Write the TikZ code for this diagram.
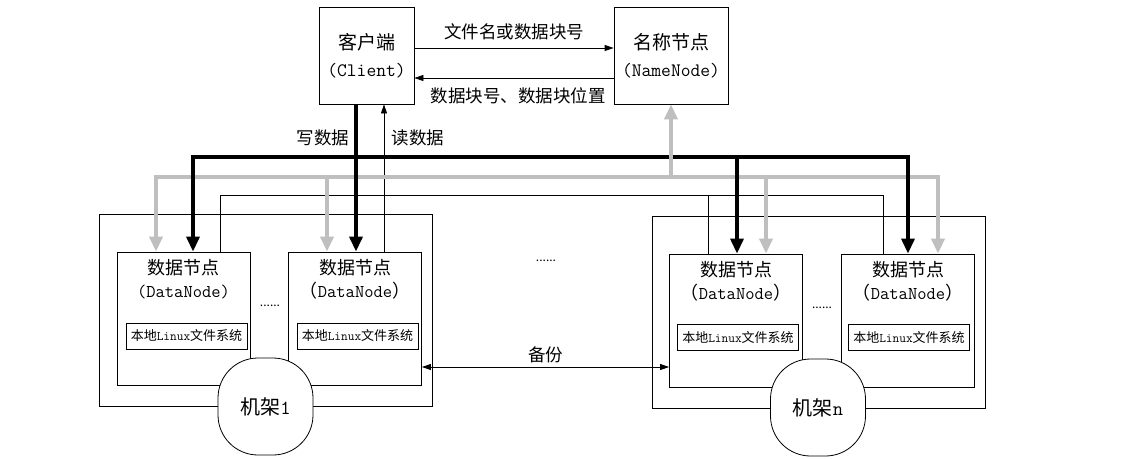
\documentclass[tikz,border=0pt]{standalone}
\usepackage{fontspec}
\setmainfont{Noto Sans CJK SC}
\newcommand\latfont{\ttfamily}
\usetikzlibrary{arrows.meta}
\definecolor{gry}{RGB}{191,191,191}
\tikzset{
  box/.style={draw,line width=0.8pt,inner sep=0pt},
  topbox/.style={box,minimum height=97pt,align=center,font=\fontsize{19}{27}\selectfont},
  rackbox/.style={box,minimum width=333pt,minimum height=192pt},
  dnbox/.style={box,minimum width=133pt,minimum height=133pt},
  dnlbl/.style={align=center,inner sep=0pt,font=\fontsize{18}{23}\selectfont},
  fsbox/.style={box,minimum width=121pt,minimum height=26pt,font=\fontsize{13}{15}\selectfont},
  rack/.style={box,fill=white,minimum width=95pt,minimum height=97pt,rounded corners=40pt,font=\fontsize{20}{22}\selectfont},
  lbl/.style={inner sep=0pt,font=\fontsize{17.5}{20}\selectfont},
  dots/.style={inner sep=0pt,font=\fontsize{12}{14}\selectfont},
  thinline/.style={line width=0.8pt},
  wline/.style={line width=3.4pt},
  gline/.style={line width=4.6pt,gry},
  tip/.tip={Triangle[length=9pt,width=6pt]},
  bigtip/.tip={Triangle[length=15pt,width=13pt]},
}

\begin{document}
\begin{tikzpicture}[x=1pt,y=-1pt]
\useasboundingbox (0,0) rectangle (1138,458);
% client and name node
\node[topbox,minimum width=95pt] (cl) at (366.5,55.5) {客户端\\{\latfont(Client)}};
\node[topbox,minimum width=114pt] (nn) at (671,55.5) {名称节点\\{\latfont(NameNode)}};
\draw[thinline,-tip] ([yshift=7.5pt]cl.east) -- ([yshift=7.5pt]cl.east -| nn.west)
  node[lbl,midway,above=8pt] {文件名或数据块号};
\draw[thinline,-tip] ([yshift=-22.5pt]nn.west) -- ([yshift=-22.5pt]nn.west -| cl.east)
  node[lbl,midway,below=9pt,xshift=4pt] {数据块号、数据块位置};
% racks
\node[rackbox] (r1) at (265.5,310) {};
\node[rackbox] (rn) at (818.5,312) {};
\node[dnbox] (dn1) at (183.5,318.5) {};
\node[dnbox] (dn2) at (355,318.5) {};
\node[dnbox] (dn3) at (736,320.5) {};
\node[dnbox] (dn4) at (908,320.5) {};
\node[dnlbl] at ([yshift=-27.5pt]dn1.north) {数据节点\\{\latfont(DataNode)}};
\node[dnlbl] at ([yshift=-27.5pt]dn2.north) {数据节点\\（{\latfont DataNode}）};
\node[dnlbl] at ([yshift=-27.5pt]dn3.north) {数据节点\\（{\latfont DataNode}）};
\node[dnlbl] at ([yshift=-27.5pt]dn4.north) {数据节点\\（{\latfont DataNode}）};
\node[fsbox] (fs1) at (186.5,336) {本地{\latfont Linux}文件系统};
\node[fsbox] (fs2) at (357.5,336) {本地{\latfont Linux}文件系统};
\node[fsbox] (fs3) at (738,337.5) {本地{\latfont Linux}文件系统};
\node[fsbox] (fs4) at (909,337.5) {本地{\latfont Linux}文件系统};
\node[rack] (k1) at (265.5,406.5) {机架{\latfont 1}};
\node[rack] (kn) at (818,407.5) {机架{\latfont n}};
\node[dots] (d1) at (270,306) {......};
\node[dots] (d2) at (546,261) {......};
\node[dots] (d3) at (822,308) {......};
\draw[thinline,tip-tip] (dn2.east |- 0,367) -- (dn3.west |- 0,367)
  node[lbl,midway,above=4pt] {备份};
% read lines
\coordinate (rl) at (220,195);
\coordinate (r2) at (384,195);
\coordinate (r3) at (708,195);
\coordinate (rr) at (883,195);
\draw[thinline] (rl |- dn1.north) -- (rl) -- (rr) -- (rr |- dn4.north);
\draw[thinline] (r3) -- (r3 |- dn3.north);
\draw[thinline,-tip] (r2 |- dn2.north) -- (r2 |- cl.south);
\node[lbl] at (418,138) {读数据};
% write lines
\coordinate (wl) at (193,157);
\coordinate (w2) at (356,157);
\coordinate (w3) at (737,157);
\coordinate (wr) at (908,157);
\draw[wline,line cap=rect] (wl) -- (wr);
\node[lbl] at (323,138) {写数据};
% heartbeat lines
\coordinate (gl) at (156,177);
\coordinate (g2) at (327,177);
\coordinate (gn) at (671,177);
\coordinate (g3) at (766,177);
\coordinate (gr) at (938,177);
\draw[gline,line cap=rect] (gl) -- (gr);
\draw[gline,-bigtip] (gl) -- (gl |- dn1.north);
\draw[gline,-bigtip] (g2) -- (g2 |- dn2.north);
\draw[gline,-bigtip] (g3) -- (g3 |- dn3.north);
\draw[gline,-bigtip] (gr) -- (gr |- dn4.north);
\draw[gline,-bigtip] (gn) -- (gn |- nn.south);
\draw[wline,-bigtip] (wl) -- (wl |- dn1.north);
\draw[wline,-bigtip] (w2 |- cl.south) -- (w2 |- dn2.north);
\draw[wline,-bigtip] (w3) -- (w3 |- dn3.north);
\draw[wline,-bigtip] (wr) -- (wr |- dn4.north);
\end{tikzpicture}
\end{document}
